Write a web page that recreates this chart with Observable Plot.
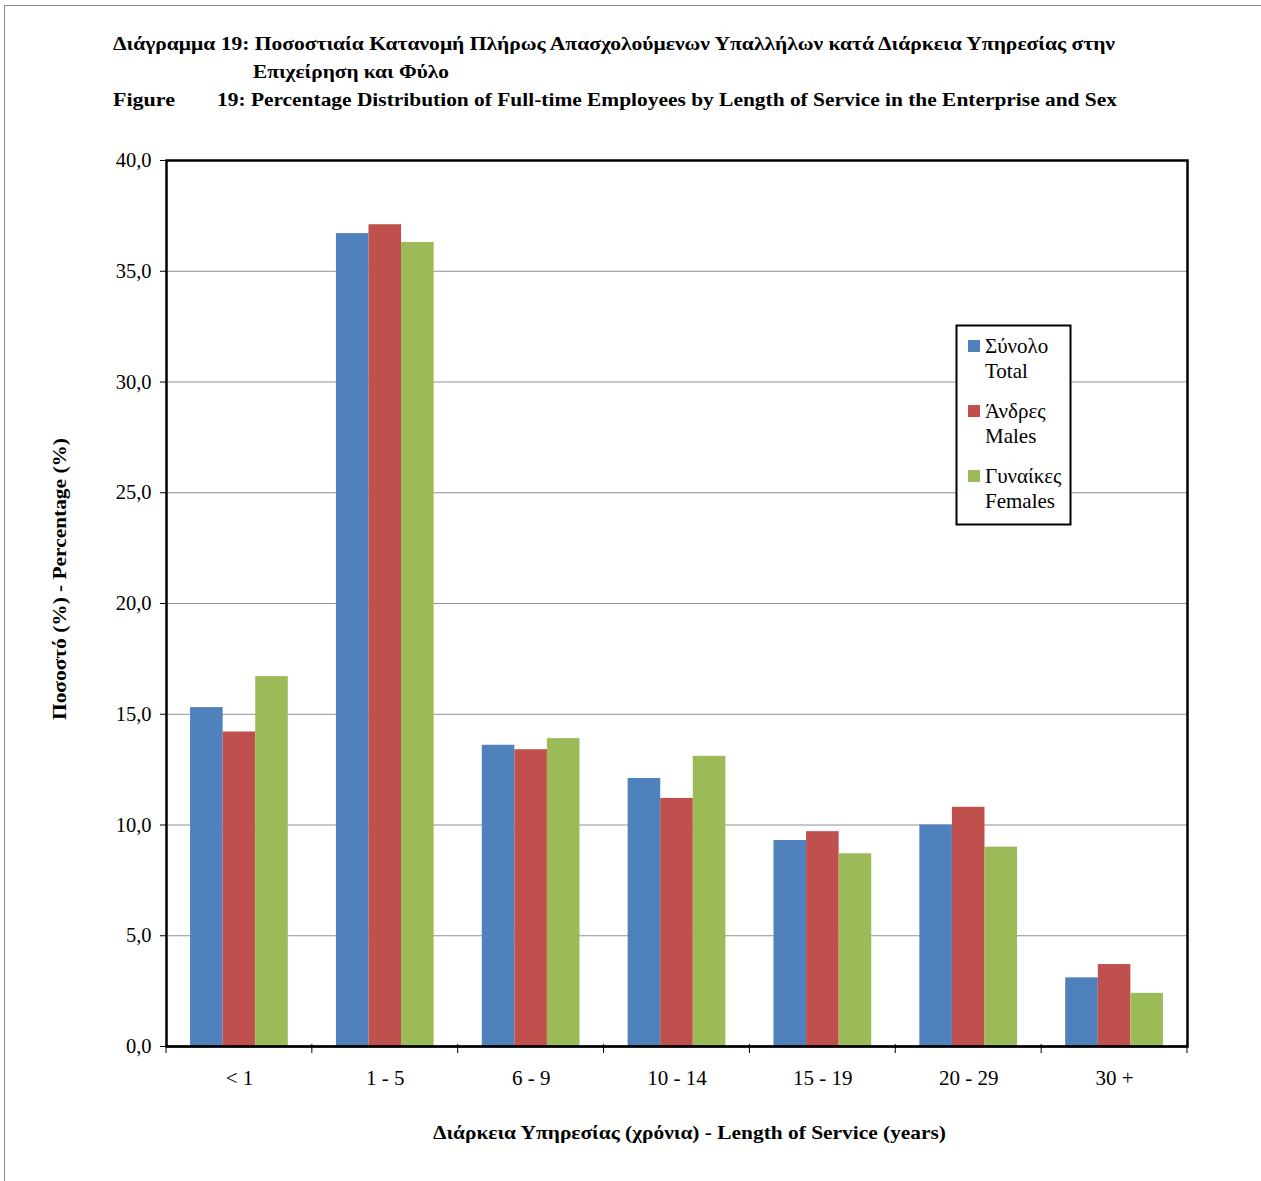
<!DOCTYPE html>
<html><head><meta charset="utf-8">
<script src="https://cdn.jsdelivr.net/npm/d3@7"></script>
<script src="https://cdn.jsdelivr.net/npm/@observablehq/plot@0.6"></script>
<style>
body{margin:0;background:#fff;}
#page{position:relative;width:1261px;height:1181px;overflow:hidden;background:#fff;}
#border{position:absolute;left:4px;top:5px;width:1300px;height:1300px;border-left:1.5px solid #8a8a8a;border-top:1.5px solid #8a8a8a;}
#chart{position:absolute;left:0;top:0;}
</style>
</head><body>
<div id="page"><div id="border"></div><div id="chart"></div></div>
<script>
const categories = ["< 1", "1 - 5", "6 - 9", "10 - 14", "15 - 19", "20 - 29", "30 +"];
const seriesNames = ["Σύνολο", "Άνδρες", "Γυναίκες"];
const seriesSub = ["Total", "Males", "Females"];
const colors = ["#4F81BD", "#C0504D", "#9BBB59"];
const total = [15.3, 36.7, 13.6, 12.1, 9.3, 10.0, 3.1];
const males = [14.2, 37.1, 13.4, 11.2, 9.7, 10.8, 3.7];
const females = [16.7, 36.3, 13.9, 13.1, 8.7, 9.0, 2.4];
const yTicks = [0, 5, 10, 15, 20, 25, 30, 35, 40];

const titleLine1 = "Διάγραμμα 19: Ποσοστιαία Κατανομή Πλήρως Απασχολούμενων Υπαλλήλων κατά Διάρκεια Υπηρεσίας στην";
const titleLine2 = "Επιχείρηση και Φύλο";
const titleLine3a = "Figure";
const titleLine3b = "19: Percentage Distribution of Full-time Employees by Length of Service in the Enterprise and Sex";
const xTitle = "Διάρκεια Υπηρεσίας (χρόνια) - Length of Service (years)";
const yTitle = "Ποσοστό (%) - Percentage (%)";

const W = 1261, H = 1181, mL = 166, mR = 74, mT = 160, mB = 135;
const padInner = 0.33;
const step = (W - mL - mR) / categories.length;
const third = step * (1 - padInner) / 3;

const seriesValues = [total, males, females];
const rows = seriesValues.map(vals => categories.map((c, i) => ({cat: c, value: vals[i]})));
const fmt = d => d.toFixed(1).replace(".", ",");

const chart = Plot.plot({
  width: W, height: H,
  marginLeft: mL, marginRight: mR, marginTop: mT, marginBottom: mB,
  style: {fontFamily: '"Liberation Serif", "Times New Roman", serif', fontSize: "20.5px", color: "#000", background: "transparent", overflow: "visible"},
  x: {domain: categories, round: false, paddingInner: padInner, paddingOuter: padInner / 2, tickSize: 0, tickPadding: 24, label: null},
  y: {domain: [0, 40], ticks: yTicks, tickSize: 6, tickPadding: 9, tickFormat: fmt, label: null},
  marks: [
    Plot.ruleY(yTicks.slice(1, -1), {stroke: "#909090", strokeWidth: 1}),
    ...rows.map((data, j) => Plot.barY(data, {x: "cat", y: "value", fill: colors[j], insetLeft: j * third, insetRight: (2 - j) * third})),
    Plot.ruleY([0], {stroke: "#000", strokeWidth: 2}),
    Plot.frame({stroke: "#000", strokeWidth: 2.5})
  ]
});

document.getElementById("chart").appendChild(chart);
const svg = d3.select(chart);
svg.selectAll('g[aria-label="x-axis tick label"]').attr("font-size", 21);

// boundary ticks on the category axis
const xs = chart.scale("x");
const gap = (xs.step - xs.bandwidth) / 2;
const bounds = categories.map(c => xs.apply(c) - gap);
bounds.push(xs.apply(categories[categories.length - 1]) + xs.bandwidth + gap);
const yBase = chart.scale("y").apply(0);
svg.append("g").selectAll("line").data(bounds).join("line")
  .attr("x1", d => d).attr("x2", d => d)
  .attr("y1", yBase - 2).attr("y2", yBase + 7)
  .attr("stroke", "#000").attr("stroke-width", 1);

const ff = '"Liberation Serif", "Times New Roman", serif';
function txt(s, x, y, opts = {}) {
  const t = svg.append("text").text(s).attr("x", x).attr("y", y)
    .attr("font-family", ff).attr("font-size", opts.size || 19)
    .attr("font-weight", opts.bold ? "bold" : "normal").attr("fill", "#000")
    .attr("text-anchor", opts.anchor || "start");
  if (opts.len) t.attr("textLength", opts.len).attr("lengthAdjust", "spacingAndGlyphs");
  if (opts.transform) t.attr("transform", opts.transform);
  return t;
}
// titles
txt(titleLine1, 113, 50, {bold: true, len: 1002});
txt(titleLine2, 253, 78, {bold: true, len: 196});
txt(titleLine3a, 113, 106, {bold: true, len: 62});
txt(titleLine3b, 217, 106, {bold: true, len: 900});
// axis titles
txt(xTitle, 689.5, 1139, {bold: true, anchor: "middle", len: 513});
txt(yTitle, 0, 0, {bold: true, anchor: "middle", len: 282, transform: "translate(66,579) rotate(-90)"});

// legend
const lg = svg.append("g");
lg.append("rect").attr("x", 956.5).attr("y", 325.5).attr("width", 114).attr("height", 199)
  .attr("fill", "#fff").attr("stroke", "#000").attr("stroke-width", 2);
seriesNames.forEach((name, i) => {
  const base = 353 + i * 65;
  lg.append("rect").attr("x", 968).attr("y", base - 13).attr("width", 12).attr("height", 12).attr("fill", colors[i]);
  txt(name, 985, base, {size: 21});
  txt(seriesSub[i], 985, base + 25, {size: 21});
});
</script>
</body></html>
